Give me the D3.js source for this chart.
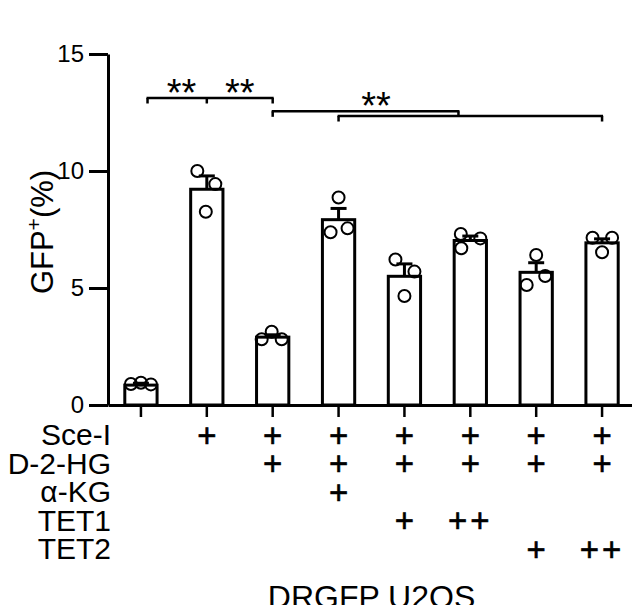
<!DOCTYPE html>
<html>
<head>
<meta charset="utf-8">
<script src="https://cdn.jsdelivr.net/npm/d3@7"></script>
<style>
  html, body { margin: 0; padding: 0; background: #fff; }
  svg { display: block; font-family: "Liberation Sans", Arial, sans-serif; }
</style>
</head>
<body>
<svg id="chart" width="632" height="605"></svg>
<script>
// ---------- data ----------
const groups = [0, 1, 2, 3, 4, 5, 6, 7];
const means = [0.85, 9.22, 2.90, 7.92, 5.50, 7.03, 5.67, 6.93];
const sems  = [0.08, 0.57, 0.10, 0.48, 0.53, 0.19, 0.41, 0.17];
const points = [
  [0.90, 0.95, 0.88],
  [10.00, 8.26, 9.44],
  [2.81, 3.13, 2.81],
  [8.87, 7.38, 7.55],
  [6.22, 5.70, 4.66],
  [7.31, 7.12, 6.70],
  [6.41, 5.51, 5.13],
  [7.15, 7.15, 6.53]
];
const jitter = [
  [-10, 0, 10],
  [-9.5, -1, 8.5],
  [-11, -1, 9],
  [0, -8, 9],
  [-9, 10, 0],
  [-9.5, 10, -9],
  [0, 9, -9.5],
  [-9.5, 10, 0]
];
const yTicks = [0, 5, 10, 15];
const rowLabels = ["Sce-I", "D-2-HG", "\u03B1-KG", "TET1", "TET2"];
const rowSceI  = ["", "+", "+", "+", "+", "+", "+", "+"];
const rowD2HG  = ["", "", "+", "+", "+", "+", "+", "+"];
const rowAKG   = ["", "", "", "+", "", "", "", ""];
const rowTET1  = ["", "", "", "", "+", "++", "", ""];
const rowTET2  = ["", "", "", "", "", "", "+", "++"];
const rows = [rowSceI, rowD2HG, rowAKG, rowTET1, rowTET2];
const yTitleMain = "GFP";
const yTitleSup = "+";
const yTitleEnd = "(%)";
const xTitle = "DRGFP U2OS";
// significance brackets: x in group-index units, y in data units
const brackets = [
  { x1: 0.1, x2: 2, y: 13.12, ticks: [0.1, 1, 2] },
  { x1: 2, x2: 4.82, y: 12.55, ticks: [2, 4.82] },
  { x1: 3, x2: 7, y: 12.35, ticks: [3, 7] }
];
const stars = [
  { x: 0.615, y: 13.12, label: "**" },
  { x: 1.5, y: 13.12, label: "**" },
  { x: 3.57, y: 12.55, label: "**" }
];

// ---------- scales ----------
const svg = d3.select("#chart");
const x = d3.scaleBand().domain(groups).range([108, 635]).paddingInner(0.51).paddingOuter(0.255);
const y = d3.scaleLinear().domain([0, 15]).range([405, 54]);
const step = x.step();
const xc = i => x(groups[0]) + x.bandwidth() / 2 + i * step;
const rowY = d3.scaleLinear().domain([0, rowLabels.length - 1]).range([445, 559]);

// ---------- bars ----------
svg.append("g").selectAll("rect").data(groups).join("rect")
  .attr("x", d => x(d))
  .attr("y", d => y(means[d]))
  .attr("width", x.bandwidth())
  .attr("height", d => y(0) - y(means[d]))
  .attr("fill", "#fff").attr("stroke", "#000").attr("stroke-width", 3);

// ---------- error bars ----------
const eb = svg.append("g").attr("stroke", "#000").attr("stroke-width", 3);
groups.forEach(d => {
  const cx = xc(d);
  eb.append("line").attr("x1", cx).attr("x2", cx).attr("y1", y(means[d])).attr("y2", y(means[d] + sems[d]));
  eb.append("line").attr("x1", cx - 8).attr("x2", cx + 8).attr("y1", y(means[d] + sems[d])).attr("y2", y(means[d] + sems[d]));
});

// ---------- points ----------
const pts = [];
groups.forEach(d => points[d].forEach((v, k) => pts.push({ g: d, v: v, j: jitter[d][k] })));
svg.append("g").selectAll("circle").data(pts).join("circle")
  .attr("cx", p => xc(p.g) + p.j)
  .attr("cy", p => y(p.v))
  .attr("r", 6)
  .attr("fill", "none").attr("stroke", "#000").attr("stroke-width", 2);

// ---------- axes ----------
const yAxis = svg.append("g").attr("transform", "translate(108,0)")
  .call(d3.axisLeft(y).tickValues(yTicks).tickSize(19).tickSizeOuter(0).tickPadding(5));
yAxis.select(".domain").attr("stroke-width", 3);
yAxis.selectAll(".tick line").attr("stroke-width", 3);
yAxis.selectAll(".tick text").attr("fill", "#000")
  .style("font-size", "24px").style("font-family", "'Liberation Sans', Arial, sans-serif");

const xAxis = svg.append("g").attr("transform", "translate(0,405)")
  .call(d3.axisBottom(x).tickSize(12).tickSizeOuter(0).tickFormat(""));
xAxis.select(".domain").attr("stroke-width", 3);
xAxis.selectAll(".tick line").attr("stroke-width", 2.5);

// ---------- y title ----------
const yt = svg.append("text")
  .attr("transform", "translate(53,232) rotate(-90)")
  .attr("text-anchor", "middle")
  .attr("font-size", 31).attr("fill", "#000");
yt.append("tspan").text(yTitleMain);
yt.append("tspan").attr("font-size", 21).attr("dy", -12).text(yTitleSup);
yt.append("tspan").attr("dy", 12).text(yTitleEnd);

// ---------- brackets ----------
const br = svg.append("g").attr("stroke", "#000").attr("stroke-width", 2.5).attr("fill", "none");
brackets.forEach(b => {
  br.append("line").attr("x1", xc(b.x1) - 1).attr("x2", xc(b.x2) + 1).attr("y1", y(b.y)).attr("y2", y(b.y));
  b.ticks.forEach(t => br.append("line").attr("x1", xc(t)).attr("x2", xc(t)).attr("y1", y(b.y)).attr("y2", y(b.y) + 5.5));
});
svg.append("g").selectAll("text").data(stars).join("text")
  .attr("x", s => xc(s.x)).attr("y", s => y(s.y) + 8)
  .attr("text-anchor", "middle").attr("font-size", 38).attr("fill", "#000")
  .text(s => s.label);

// ---------- treatment table ----------
svg.append("g").selectAll("text").data(rowLabels).join("text")
  .attr("x", 111).attr("y", (d, i) => rowY(i))
  .attr("text-anchor", "end").attr("font-size", 30).attr("fill", "#000")
  .text(d => d);
const cells = [];
rows.forEach((r, i) => r.forEach((s, g) => { if (s) cells.push({ i, g, s }); }));
svg.append("g").selectAll("text").data(cells).join("text")
  .attr("x", c => xc(c.g)).attr("y", c => rowY(c.i) + 1.5)
  .attr("text-anchor", "middle").attr("font-size", 33).attr("fill", "#000")
  .attr("stroke", "#000").attr("stroke-width", 0.6)
  .attr("letter-spacing", c => c.s.length > 1 ? 3 : 0)
  .text(c => c.s);

// ---------- x title ----------
svg.append("text").attr("x", xc(3.5)).attr("y", 608)
  .attr("text-anchor", "middle").attr("font-size", 32).attr("fill", "#000")
  .text(xTitle);
</script>
</body>
</html>
